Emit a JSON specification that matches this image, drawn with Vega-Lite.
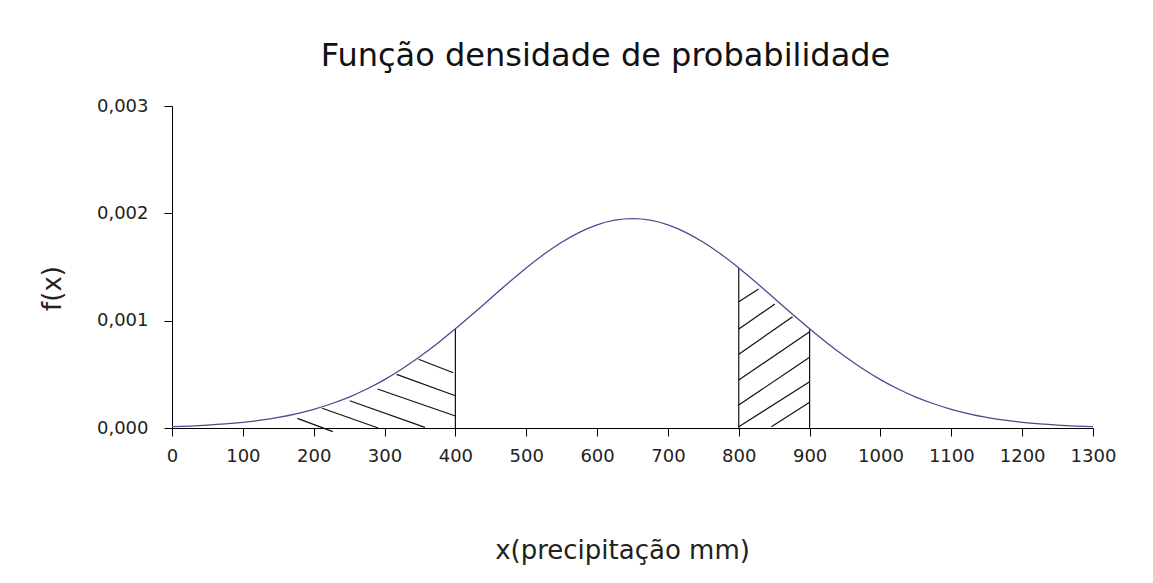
{
  "$schema": "https://vega.github.io/schema/vega-lite/v6.json",
  "width": 921,
  "height": 322,
  "autosize": {"type": "none"},
  "padding": {"left": 172, "top": 106, "right": 60, "bottom": 155},
  "background": "white",
  "config": {
    "font": "DejaVu Sans",
    "view": {"stroke": null},
    "axis": {"grid": false, "domainColor": "#000", "tickColor": "#000", "labelColor": "#222", "titleColor": "#222", "labelFont": "DejaVu Sans", "titleFont": "DejaVu Sans", "titleFontWeight": "normal"}
  },
  "title": {"text": "Função densidade de probabilidade", "fontSize": 32, "fontWeight": "normal", "color": "#111", "font": "DejaVu Sans", "offset": 24, "dx": -27, "anchor": "middle"},
  "datasets": {
    "curve": [
      {"x": 0, "f": 0.0000126}, {"x": 25, "f": 0.0000184}, {"x": 50, "f": 0.0000265}, {"x": 75, "f": 0.0000376},
      {"x": 100, "f": 0.0000526}, {"x": 125, "f": 0.0000725}, {"x": 150, "f": 0.0000984}, {"x": 175, "f": 0.000132},
      {"x": 200, "f": 0.000174}, {"x": 225, "f": 0.000226}, {"x": 250, "f": 0.000288}, {"x": 275, "f": 0.000363},
      {"x": 300, "f": 0.000451}, {"x": 325, "f": 0.000552}, {"x": 350, "f": 0.000666}, {"x": 375, "f": 0.00079},
      {"x": 400, "f": 0.000924}, {"x": 425, "f": 0.001065}, {"x": 450, "f": 0.001209}, {"x": 475, "f": 0.001353},
      {"x": 500, "f": 0.001491}, {"x": 525, "f": 0.001618}, {"x": 550, "f": 0.00173}, {"x": 575, "f": 0.001823},
      {"x": 600, "f": 0.001893}, {"x": 625, "f": 0.001936}, {"x": 650, "f": 0.00195}, {"x": 675, "f": 0.001936},
      {"x": 700, "f": 0.001893}, {"x": 725, "f": 0.001823}, {"x": 750, "f": 0.00173}, {"x": 775, "f": 0.001618},
      {"x": 800, "f": 0.001491}, {"x": 825, "f": 0.001353}, {"x": 850, "f": 0.001209}, {"x": 875, "f": 0.001065},
      {"x": 900, "f": 0.000924}, {"x": 925, "f": 0.00079}, {"x": 950, "f": 0.000666}, {"x": 975, "f": 0.000552},
      {"x": 1000, "f": 0.000451}, {"x": 1025, "f": 0.000363}, {"x": 1050, "f": 0.000288}, {"x": 1075, "f": 0.000226},
      {"x": 1100, "f": 0.000174}, {"x": 1125, "f": 0.000132}, {"x": 1150, "f": 0.0000984}, {"x": 1175, "f": 0.0000725},
      {"x": 1200, "f": 0.0000526}, {"x": 1225, "f": 0.0000376}, {"x": 1250, "f": 0.0000265}, {"x": 1275, "f": 0.0000184},
      {"x": 1300, "f": 0.0000126}
    ],
    "segments": [
      {"x": 400, "y": 0, "x2": 400, "y2": 0.000924},
      {"x": 800, "y": 0, "x2": 800, "y2": 0.001491},
      {"x": 900, "y": 0, "x2": 900, "y2": 0.000924},
      {"x": 348, "y": 0.00064, "x2": 397, "y2": 0.000515},
      {"x": 317, "y": 0.0005, "x2": 400, "y2": 0.0003},
      {"x": 290, "y": 0.000363, "x2": 400, "y2": 0.000112},
      {"x": 251, "y": 0.000254, "x2": 357, "y2": 0.000006},
      {"x": 212, "y": 0.000184, "x2": 291, "y2": 0},
      {"x": 177, "y": 0.00009, "x2": 227, "y2": -0.000034},
      {"x": 800, "y": 0.001177, "x2": 828, "y2": 0.001295},
      {"x": 800, "y": 0.000922, "x2": 851, "y2": 0.001155},
      {"x": 800, "y": 0.000687, "x2": 876, "y2": 0.001037},
      {"x": 800, "y": 0.000447, "x2": 900, "y2": 0.000897},
      {"x": 800, "y": 0.000214, "x2": 900, "y2": 0.000659},
      {"x": 800, "y": 0.000012, "x2": 900, "y2": 0.000431},
      {"x": 846, "y": 0.000012, "x2": 900, "y2": 0.000239}
    ]
  },
  "layer": [
    {
      "data": {"name": "segments"},
      "mark": {"type": "rule", "color": "#111", "strokeWidth": 1.2, "clip": false},
      "encoding": {
        "x": {"field": "x", "type": "quantitative", "scale": {"domain": [0, 1300]}},
        "y": {"field": "y", "type": "quantitative", "scale": {"domain": [0, 0.003]}},
        "x2": {"field": "x2"},
        "y2": {"field": "y2"}
      }
    },
    {
      "data": {"name": "curve"},
      "mark": {"type": "line", "color": "#4b4b8f", "strokeWidth": 1.3, "interpolate": "monotone"},
      "encoding": {
        "x": {"field": "x", "type": "quantitative", "scale": {"domain": [0, 1300], "nice": false},
          "axis": {"title": "x(precipitação mm)", "values": [0,100,200,300,400,500,600,700,800,900,1000,1100,1200,1300], "format": "d", "labelFontSize": 18, "labelPadding": 11, "tickSize": 8, "titleFontSize": 26, "titlePadding": 72, "titleX": 450, "labelFlush": false, "labelOverlap": false}},
        "y": {"field": "f", "type": "quantitative", "scale": {"domain": [0, 0.003], "nice": false},
          "axis": {"title": "f(x)", "values": [0, 0.001, 0.002, 0.003], "labelExpr": "replace(format(datum.value, '.3f'), '.', ',')", "labelFontSize": 18, "labelPadding": 16, "tickSize": 8, "titleFontSize": 26, "titleX": -120, "titleY": 182, "titleBaseline": "middle"}}
      }
    }
  ]
}
